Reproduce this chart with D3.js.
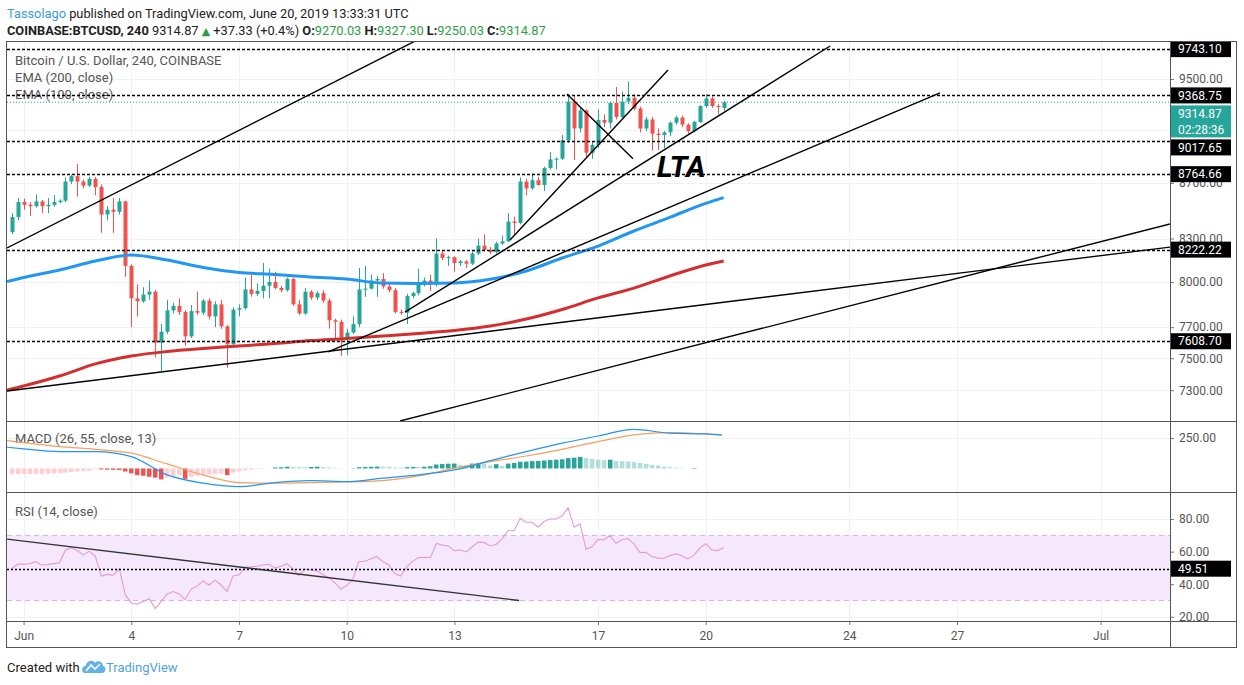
<!DOCTYPE html>
<html>
<head>
<meta charset="utf-8">
<script src="https://cdn.jsdelivr.net/npm/d3@7"></script>
<style>
  body { margin: 0; background: #fff; }
  svg text { font-family: Roboto, "Open Sans", sans-serif; }
</style>
</head>
<body>
<svg id="chart" width="1244" height="685"></svg>
<script>
// ---- data (4h candles, first bar May 31 16:00 UTC) ----
const BAR_START = Date.UTC(2019, 4, 31, 16);
const BAR_MS = 4 * 3600 * 1000;
const DAY0 = Date.UTC(2019, 5, 1);
const DAY_MS = 864e5;

const opens = [8346,8452,8560,8540,8530,8565,8530,8540,8560,8570,8710,8750,8710,8680,8730,8670,8470,8505,8490,8565,
  8110,7890,7870,7915,7935,7600,7670,7810,7840,7800,7640,7805,7795,7875,7770,7850,7705,7590,7815,7825,
  7950,7920,7940,7975,8000,7960,7945,8020,7850,7790,7935,7895,7925,7875,7745,7735,7630,7665,7720,7950,
  7955,8010,8020,7970,7945,7800,7795,7905,7925,7995,8010,7985,8195,8165,8170,8130,8140,8125,8195,8250,
  8220,8205,8265,8280,8420,8410,8710,8660,8720,8685,8810,8875,8880,9020,9320,9110,9250,8925,8985,9176,
  9155,9310,9200,9320,9350,9265,9110,9180,9070,9060,9080,9155,9195,9140,9090,9160,9285,9345,9285,9270.03];
const highs = [8480,8590,8585,8560,8615,8575,8590,8610,8580,8740,8760,8840,8725,8745,8745,8690,8530,8590,8590,8570,
  8120,7985,7965,8010,7945,7720,7880,7860,7890,7810,7845,7935,7885,7890,7870,7880,7715,7830,7850,8030,
  8050,7990,8130,8090,8070,7975,8030,8030,7880,7960,7945,7940,7945,7890,7755,7750,7690,7770,8095,8110,
  8050,8040,8060,7990,7960,7815,7920,7935,8090,8030,8050,8300,8215,8180,8175,8150,8150,8210,8300,8330,
  8240,8275,8320,8480,8455,8740,8730,8770,8745,8820,8930,8890,9060,9380,9370,9270,9260,9010,9260,9220,
  9320,9436,9400,9480,9380,9280,9200,9200,9110,9090,9165,9210,9210,9150,9170,9290,9380,9360,9300,9327.30];
const lows = [8330,8430,8505,8460,8520,8480,8480,8525,8550,8560,8690,8600,8660,8670,8610,8340,8430,8340,8470,8035,
  7700,7770,7860,7880,7505,7420,7655,7790,7780,7580,7630,7780,7780,7750,7700,7690,7440,7580,7770,7815,
  7900,7905,7890,7890,7950,7930,7935,7840,7780,7780,7880,7880,7860,7690,7620,7515,7520,7655,7700,7900,
  7950,7900,7955,7930,7790,7780,7720,7890,7910,7970,7940,7970,8150,8110,8070,8110,8095,8115,8185,8210,
  8190,8195,8255,8275,8330,8400,8610,8650,8680,8640,8800,8800,8870,9000,8870,9080,8885,8880,8960,9120,
  9110,9180,9180,9300,9250,9080,9090,8940,8945,8960,9050,9140,9120,9070,9080,9150,9270,9270,9220,9250.03];
const closes = [8452,8560,8540,8530,8565,8530,8540,8560,8570,8710,8750,8710,8680,8730,8670,8470,8505,8490,8565,8110,
  7890,7870,7915,7935,7600,7670,7810,7840,7800,7640,7805,7795,7875,7770,7850,7705,7590,7815,7825,7950,
  7920,7940,7975,8000,7960,7945,8020,7850,7790,7935,7895,7925,7875,7745,7735,7630,7665,7720,7950,7955,
  8010,8020,7970,7945,7800,7795,7905,7925,7995,8010,7985,8195,8165,8170,8130,8140,8125,8195,8250,8220,
  8205,8265,8280,8420,8410,8710,8660,8720,8685,8810,8875,8880,9020,9320,9110,9250,8925,8985,9176,9155,
  9310,9200,9320,9350,9265,9110,9180,9070,9060,9080,9155,9195,9140,9090,9160,9285,9345,9285,9277.54,9314.87];

// EMA values sampled once a day (day offset from Jun 1 00:00)
const emaDays = [-0.46,0,1,2,3,4,5,6,7,8,9,10,11,12,13,14,15,16,17,18,19,19.5];
const ema100 = [8003,8031,8082,8143,8185,8150,8099,8065,8051,8034,8020,7993,7990,7993,8018,8075,8164,8247,8353,8450,8550,8592];
const ema200 = [7301,7326,7388,7464,7514,7543,7562,7578,7594,7613,7626,7642,7659,7678,7707,7753,7816,7893,7959,8041,8116,8144];

// MACD (26, 55, close, 13)
const macdDays = [-0.46,0,1,2,3,4,5,6,7,8,9,10,11,12,13,14,15,16,17,18,19,19.45];
const macdLine = [174,160,138,138,97,-53,-121,-149,-116,-100,-108,-80,-53,-12,64,138,207,266,321,289,283,275];
const signalLine = [228,211,179,157,125,37,-53,-116,-121,-116,-111,-100,-61,2,56,102,157,220,275,293,283,275];
const histValues = [-45,-45,-45,-45,-44,-44,-43,-40,-38,-35,-30,-25,-22,-18,-5,-8,-10,-11,-12,-25,
  -40,-55,-60,-68,-75,-90,-75,-65,-55,-85,-68,-60,-55,-50,-45,-42,-55,-35,-25,-15,
  -10,-6,-3,-1,8,10,14,14,12,10,12,14,12,8,5,2,1,2,10,12,
  14,15,15,14,8,6,10,12,12,14,18,32,36,39,40,30,28,40,45,40,
  25,35,20,40,45,55,56,60,62,65,70,72,75,85,88,95,85,78,72,70,
  72,62,60,58,52,45,38,30,25,15,10,6,2,0,-4,0,0,0,0,0];

// RSI (14, close), one value per bar
const rsiValues = [49.5,52.4,52.3,52.5,53.8,51.8,52,52.6,53.2,61,62.4,60.5,58,60.3,57,45,46,45.6,49.5,33.4,
  28.5,27.8,29.5,30.9,25,29.5,34,35.5,34,30.5,37,38.8,42,39.5,42.5,39.5,35.5,45,45.6,50.5,
  50.7,51,51.8,52.2,50,51,52.6,49.5,45.3,49.3,48.7,48.2,46,44,41,37,39.1,43,53.8,54.1,
  55.5,57,54,52,46.5,45,50.5,54,56.3,56.5,56.4,65,64,63.5,60.6,61,59.8,63,66,65.5,
  63.5,64.5,68,73,73,80.5,78,78,75,78.5,80,80,82,86.9,75,77,61.5,63,67.5,67.1,
  70,65.1,67.3,68,64.7,59.5,59.6,57,56,55.9,57.5,58.6,57.5,55.5,57.7,62,65,61,60.6,62.5];

// horizontal levels drawn by the author
const levels = [9743.10, 9368.75, 9017.65, 8764.66, 8222.22, 7608.70];
const rsiLevel = 49.51;
const lastClose = 9314.87;
const timerText = "02:28:36";

// trend lines: [day1, price1, day2, price2]
const trendLines = [
  [-0.462, 8234, 11.5, 9900],
  [-0.462, 7295, 32.0, 8242],
  [8.479, 7540, 25.526, 9389],
  [10.624, 7799, 22.465, 9769],
  [13.549, 8290, 17.95, 9573],
  [15.136, 9380, 16.975, 8879],
  [10.485, 7112, 31.933, 8403]
];
const rsiTrend = [-0.462, 67.7, 13.8, 30];

// axis ticks
const priceTicks = [9500, 9100, 8700, 8300, 8000, 7700, 7500, 7300];
const macdTicks = [250];
const rsiTicks = [80, 60, 40, 20];
const timeTickDays = [0, 3, 6, 9, 12, 16, 19, 23, 26, 30];
const timeTickLabels = ["Jun", "4", "7", "10", "13", "17", "20", "24", "27", "Jul"];

// ---- layout ----
const L = 7, R = 1170, AXR = 1237;
const mainTop = 42, mainBot = 421, macdBot = 492, rsiBot = 621, timeBot = 648;
const upColor = "#26a69a", downColor = "#ef5350";
const gridColor = "#eef1f5";

const svg = d3.select("#chart");

const x = d3.scaleUtc()
  .domain([new Date(DAY0), new Date(Date.UTC(2019, 6, 1))])
  .range([23.6, 1100.6]);
const y = d3.scaleLog().domain([7112, 9802]).range([mainBot, mainTop]);
const yMacd = d3.scaleLinear().domain([-193, 389]).range([macdBot, mainBot]);
const yRsi = d3.scaleLinear().domain([17.4, 96.6]).range([rsiBot, macdBot]);

const dayDate = d => new Date(DAY0 + d * DAY_MS);
const barDate = k => new Date(BAR_START + k * BAR_MS);

const defs = svg.append("defs");
function addClip(id, y0, y1) {
  defs.append("clipPath").attr("id", id).append("rect")
    .attr("x", L).attr("y", y0).attr("width", R - L).attr("height", y1 - y0);
}
addClip("clipMain", mainTop, mainBot);
addClip("clipMacd", mainBot, macdBot);
addClip("clipRsi", macdBot, rsiBot);

// ---- header ----
const head1 = svg.append("text").attr("x", 7).attr("y", 18).attr("font-size", 12.8).attr("fill", "#222");
head1.append("tspan").attr("fill", "#3d9bd6").text("Tassolago");
head1.append("tspan").text(" published on TradingView.com, June 20, 2019 13:33:31 UTC");

const green = "#2e9e46";
const head2 = svg.append("text").attr("x", 7).attr("y", 35).attr("font-size", 12.8).attr("fill", "#222");
head2.append("tspan").attr("font-weight", "bold").text("COINBASE:BTCUSD, 240");
head2.append("tspan").text(" 9314.87 ");
head2.append("tspan").attr("fill", green).attr("font-family", "DejaVu Sans").attr("font-size", 11).text("\u25B2");
head2.append("tspan").text(" +37.33 (+0.4%) ");
[["O:", "9270.03"], ["H:", "9327.30"], ["L:", "9250.03"], ["C:", "9314.87"]].forEach((p, i) => {
  head2.append("tspan").attr("font-weight", "bold").text((i ? " " : "") + p[0]);
  head2.append("tspan").attr("fill", green).text(p[1]);
});

// ---- grid ----
const grid = svg.append("g");
grid.selectAll("line.v").data(timeTickDays).join("line")
  .attr("x1", d => Math.round(x(dayDate(d))) + 0.5).attr("x2", d => Math.round(x(dayDate(d))) + 0.5)
  .attr("y1", mainTop).attr("y2", rsiBot)
  .attr("stroke", gridColor);
grid.selectAll("line.hp").data(priceTicks).join("line")
  .attr("x1", L).attr("x2", R)
  .attr("y1", d => Math.round(y(d)) + 0.5).attr("y2", d => Math.round(y(d)) + 0.5)
  .attr("stroke", gridColor);
grid.selectAll("line.hm").data(macdTicks).join("line")
  .attr("x1", L).attr("x2", R)
  .attr("y1", d => Math.round(yMacd(d)) + 0.5).attr("y2", d => Math.round(yMacd(d)) + 0.5)
  .attr("stroke", gridColor);
grid.selectAll("line.hr").data(rsiTicks).join("line")
  .attr("x1", L).attr("x2", R)
  .attr("y1", d => Math.round(yRsi(d)) + 0.5).attr("y2", d => Math.round(yRsi(d)) + 0.5)
  .attr("stroke", gridColor);

// ---- pane legends ----
const legend = svg.append("g").attr("font-size", 13).attr("fill", "#555");
legend.append("text").attr("x", 15).attr("y", 65).text("Bitcoin / U.S. Dollar, 240, COINBASE");
legend.append("text").attr("x", 15).attr("y", 82).text("EMA (200, close)");
legend.append("text").attr("x", 15).attr("y", 99).text("EMA (100, close)");
legend.append("text").attr("x", 15).attr("y", 443).text("MACD (26, 55, close, 13)");
legend.append("text").attr("x", 15).attr("y", 516).text("RSI (14, close)");

// ---- main pane ----
const main = svg.append("g").attr("clip-path", "url(#clipMain)");
const bars = closes.map((c, k) => ({ t: barDate(k), o: opens[k], h: highs[k], l: lows[k], c: c }));

// current price line
main.append("line")
  .attr("x1", L).attr("x2", R)
  .attr("y1", y(lastClose)).attr("y2", y(lastClose))
  .attr("stroke", upColor).attr("stroke-dasharray", "1,2").attr("stroke-width", 1);

main.selectAll("line.wick").data(bars).join("line")
  .attr("x1", d => Math.round(x(d.t)) + 0.5).attr("x2", d => Math.round(x(d.t)) + 0.5)
  .attr("y1", d => y(d.h)).attr("y2", d => y(d.l))
  .attr("stroke", d => d.c >= d.o ? upColor : downColor);
main.selectAll("rect.body").data(bars).join("rect")
  .attr("x", d => Math.round(x(d.t)) - 1.5).attr("width", 4)
  .attr("y", d => y(Math.max(d.o, d.c)))
  .attr("height", d => Math.max(1, Math.abs(y(d.o) - y(d.c))))
  .attr("fill", d => d.c >= d.o ? upColor : downColor);

const emaLine = vals => d3.line()
  .x((d, i) => x(dayDate(emaDays[i])))
  .y(d => y(d))
  .curve(d3.curveMonotoneX)(vals);
main.append("path").attr("d", emaLine(ema100)).attr("fill", "none")
  .attr("stroke", "#2196f3").attr("stroke-width", 3);
main.append("path").attr("d", emaLine(ema200)).attr("fill", "none")
  .attr("stroke", "#d32f2f").attr("stroke-width", 3);

// author drawings: levels and trend lines
main.selectAll("line.level").data(levels).join("line")
  .attr("x1", L).attr("x2", R)
  .attr("y1", d => Math.round(y(d)) + 0.5).attr("y2", d => Math.round(y(d)) + 0.5)
  .attr("stroke", "#000").attr("stroke-width", 1.5).attr("stroke-dasharray", "3,2");
main.selectAll("line.trend").data(trendLines).join("line")
  .attr("x1", d => x(dayDate(d[0]))).attr("y1", d => y(d[1]))
  .attr("x2", d => x(dayDate(d[2]))).attr("y2", d => y(d[3]))
  .attr("stroke", "#000").attr("stroke-width", 1.4);
main.append("text")
  .attr("x", 657).attr("y", 177)
  .attr("font-family", "Liberation Sans, Arial, sans-serif")
  .attr("font-size", 30).attr("font-weight", "bold").attr("font-style", "italic")
  .attr("fill", "#000").text("LTA");

// ---- MACD pane ----
const macdG = svg.append("g").attr("clip-path", "url(#clipMacd)");
macdG.selectAll("rect.hist").data(histValues).join("rect")
  .attr("x", (d, k) => Math.round(x(barDate(k))) - 2).attr("width", 4.5)
  .attr("y", d => d >= 0 ? yMacd(d) : yMacd(0))
  .attr("height", d => Math.abs(yMacd(d) - yMacd(0)))
  .attr("fill", (d, k) => {
    const prev = k > 0 ? histValues[k - 1] : d;
    if (d >= 0) return d > prev ? "#26a69a" : "#b2dfdb";
    return d < prev ? "#ef5350" : "#ffcdd2";
  });
const macdPath = vals => d3.line()
  .x((d, i) => x(dayDate(macdDays[i])))
  .y(d => yMacd(d))
  .curve(d3.curveMonotoneX)(vals);
macdG.append("path").attr("d", macdPath(signalLine)).attr("fill", "none")
  .attr("stroke", "#f5a05a").attr("stroke-width", 1.2);
macdG.append("path").attr("d", macdPath(macdLine)).attr("fill", "none")
  .attr("stroke", "#2196f3").attr("stroke-width", 1.2);

// ---- RSI pane ----
const rsiG = svg.append("g").attr("clip-path", "url(#clipRsi)");
rsiG.append("rect")
  .attr("x", L).attr("width", R - L)
  .attr("y", yRsi(70)).attr("height", yRsi(30) - yRsi(70))
  .attr("fill", "#f5e7fc");
rsiG.selectAll("line.band").data([70, 30]).join("line")
  .attr("x1", L).attr("x2", R)
  .attr("y1", d => Math.round(yRsi(d)) + 0.5).attr("y2", d => Math.round(yRsi(d)) + 0.5)
  .attr("stroke", "#d6b8dc").attr("stroke-dasharray", "5,4");
rsiG.append("path")
  .attr("d", d3.line().x((d, k) => x(barDate(k))).y(d => yRsi(d))(rsiValues))
  .attr("fill", "none").attr("stroke", "#e69ad8").attr("stroke-width", 1.1);
rsiG.append("line")
  .attr("x1", L).attr("x2", R)
  .attr("y1", Math.round(yRsi(rsiLevel)) + 0.5).attr("y2", Math.round(yRsi(rsiLevel)) + 0.5)
  .attr("stroke", "#000").attr("stroke-width", 1.5).attr("stroke-dasharray", "2,2");
rsiG.append("line")
  .attr("x1", x(dayDate(rsiTrend[0]))).attr("y1", yRsi(rsiTrend[1]))
  .attr("x2", x(dayDate(rsiTrend[2]))).attr("y2", yRsi(rsiTrend[3]))
  .attr("stroke", "#333").attr("stroke-width", 1.4);

// ---- axes ----
function styleAxis(sel) {
  sel.select(".domain").remove();
  sel.selectAll(".tick line").attr("stroke", "#777");
  sel.selectAll(".tick text").attr("fill", "#555").attr("font-size", 12)
    .attr("font-family", "Roboto, sans-serif");
}
svg.append("g").attr("transform", `translate(${R},0)`)
  .call(d3.axisRight(y).tickValues(priceTicks).tickFormat(d3.format(".2f")).tickSize(4).tickPadding(5))
  .call(styleAxis);
svg.append("g").attr("transform", `translate(${R},0)`)
  .call(d3.axisRight(yMacd).tickValues(macdTicks).tickFormat(d3.format(".2f")).tickSize(4).tickPadding(5))
  .call(styleAxis);
svg.append("g").attr("transform", `translate(${R},0)`)
  .call(d3.axisRight(yRsi).tickValues(rsiTicks).tickFormat(d3.format(".2f")).tickSize(4).tickPadding(5))
  .call(styleAxis);
svg.append("g").attr("transform", `translate(0,${rsiBot})`)
  .call(d3.axisBottom(x).tickValues(timeTickDays.map(dayDate))
    .tickFormat((d, i) => timeTickLabels[i]).tickSize(4).tickPadding(6))
  .call(styleAxis);

// ---- price labels on the axis ----
const boxH = 16;
const boxes = levels.map(p => ({ y: y(p), text: p.toFixed(2), fill: "#000", h: boxH }));
boxes.push({ y: y(lastClose), text: lastClose.toFixed(2), fill: upColor, h: boxH * 2, timer: timerText });
boxes.push({ y: yRsi(rsiLevel), text: rsiLevel.toFixed(2), fill: "#000", h: boxH });
boxes.sort((a, b) => a.y - b.y);
let prevBottom = -Infinity;
boxes.forEach(b => {
  let top = b.y - boxH / 2;
  if (top < prevBottom + 2) top = prevBottom + 2;
  b.top = top;
  prevBottom = top + b.h;
});
const lab = svg.append("g");
boxes.forEach(b => {
  lab.append("rect").attr("x", R + 1).attr("y", b.top).attr("width", 60).attr("height", b.h).attr("fill", b.fill);
  lab.append("text").attr("x", R + 8).attr("y", b.top + boxH / 2).attr("dy", "0.35em")
    .attr("font-size", 12).attr("fill", "#fff").text(b.text);
  if (b.timer) {
    lab.append("text").attr("x", R + 8).attr("y", b.top + boxH * 1.5).attr("dy", "0.35em")
      .attr("font-size", 12).attr("fill", "#fff").text(b.timer);
  }
});

// ---- frame ----
const frame = svg.append("g").attr("fill", "none").attr("stroke", "#555").attr("stroke-width", 1);
frame.append("rect").attr("x", L - 0.5).attr("y", mainTop - 0.5).attr("width", AXR - L).attr("height", timeBot - mainTop);
frame.append("line").attr("x1", R + 0.5).attr("x2", R + 0.5).attr("y1", mainTop).attr("y2", timeBot);
[mainBot, macdBot, rsiBot].forEach(v => {
  frame.append("line").attr("x1", L).attr("x2", AXR).attr("y1", v + 0.5).attr("y2", v + 0.5);
});

// ---- footer ----
svg.append("text").attr("x", 7).attr("y", 672).attr("font-size", 13).attr("fill", "#222").text("Created with");
const logo = svg.append("g").attr("transform", "translate(82,658)");
logo.append("path")
  .attr("d", "M3,15 C-1,15 -1,8 4,8 C4,3 11,1 13,5 C15,2 21,3 21,8 C25,9 24,15 20,15 Z")
  .attr("fill", "#5eb3e4");
logo.append("path").attr("d", "M4,13 L9,7 L13,11 L18,6")
  .attr("fill", "none").attr("stroke", "#fff").attr("stroke-width", 1.6);
svg.append("text").attr("x", 106).attr("y", 672).attr("font-size", 13).attr("fill", "#4fa3d8").text("TradingView");
</script>
</body>
</html>
